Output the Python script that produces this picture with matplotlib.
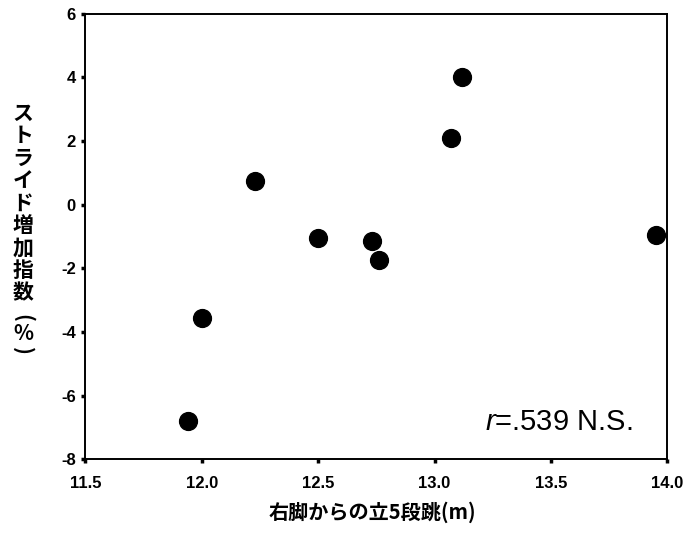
import matplotlib
matplotlib.use("Agg")
from matplotlib import pyplot as plt

# distance of standing 5-step jump from right foot (m) vs stride increase index (%)
jump_m = [11.94, 12.00, 12.23, 12.50, 12.73, 12.76, 13.07, 13.12, 13.95]
stride_pct = [-6.8, -3.55, 0.75, -1.05, -1.15, -1.75, 2.1, 4.0, -0.95]

x_ticks = [11.5, 12.0, 12.5, 13.0, 13.5, 14.0]
y_ticks = [-8, -6, -4, -2, 0, 2, 4, 6]

ylabel_chars = ["ス", "ト", "ラ", "イ", "ド", "増", "加", "指", "数"]
xlabel = "右脚からの立5段跳(m)"
note = "$\\it{r}$=.539 N.S."

plt.rcParams["mathtext.fontset"] = "custom"
plt.rcParams["mathtext.it"] = "Liberation Sans:italic"
plt.rcParams["mathtext.rm"] = "Liberation Sans"

W, H = 683, 552
fig = plt.figure(figsize=(W / 100, H / 100), dpi=100)
ax = fig.add_axes([0.125, 0.168, 0.852, 0.807])

ax.scatter(jump_m, stride_pct, s=165, color="black", zorder=3)

ax.set_xlim(11.5, 14.0)
ax.set_ylim(-8, 6)
ax.set_xticks(x_ticks)
ax.set_xticklabels([f"{v:.1f}" for v in x_ticks])
ax.set_yticks(y_ticks)
ax.set_yticklabels([str(v) for v in y_ticks])

for lab in ax.get_xticklabels() + ax.get_yticklabels():
    lab.set_fontfamily("Liberation Sans")
    lab.set_fontweight("bold")
    lab.set_fontsize(12)

ax.tick_params(direction="out", length=3, width=2.5, pad=4)
ax.tick_params(axis="x", pad=9)
for sp in ax.spines.values():
    sp.set_linewidth(1.4)

# vertical y-axis title, characters stacked upright
jp = ["Noto Sans CJK JP", "DejaVu Sans"]
xc = 23 / W
for i, ch in enumerate(ylabel_chars):
    fig.text(xc, 1 - (113 + 22.5 * i) / H, ch, ha="center", va="center",
             fontsize=15, fontweight="bold", family=jp)
fig.text(xc, 1 - 318 / H, "(", rotation=-90, ha="center", va="center",
         fontsize=15, fontweight="bold", family=jp)
fig.text(xc, 1 - 334 / H, "%", ha="center", va="center",
         fontsize=15, fontweight="bold", family=jp)
fig.text(xc, 1 - 351 / H, ")", rotation=-90, ha="center", va="center",
         fontsize=15, fontweight="bold", family=jp)

fig.text(0.545, 0.072, xlabel, ha="center", va="center",
         fontsize=14.5, fontweight="bold", family=jp)

ax.text(0.94, 0.083, note, transform=ax.transAxes, ha="right", va="center",
        fontsize=21, family="Liberation Sans")

fig.savefig("out.png", dpi=100)
